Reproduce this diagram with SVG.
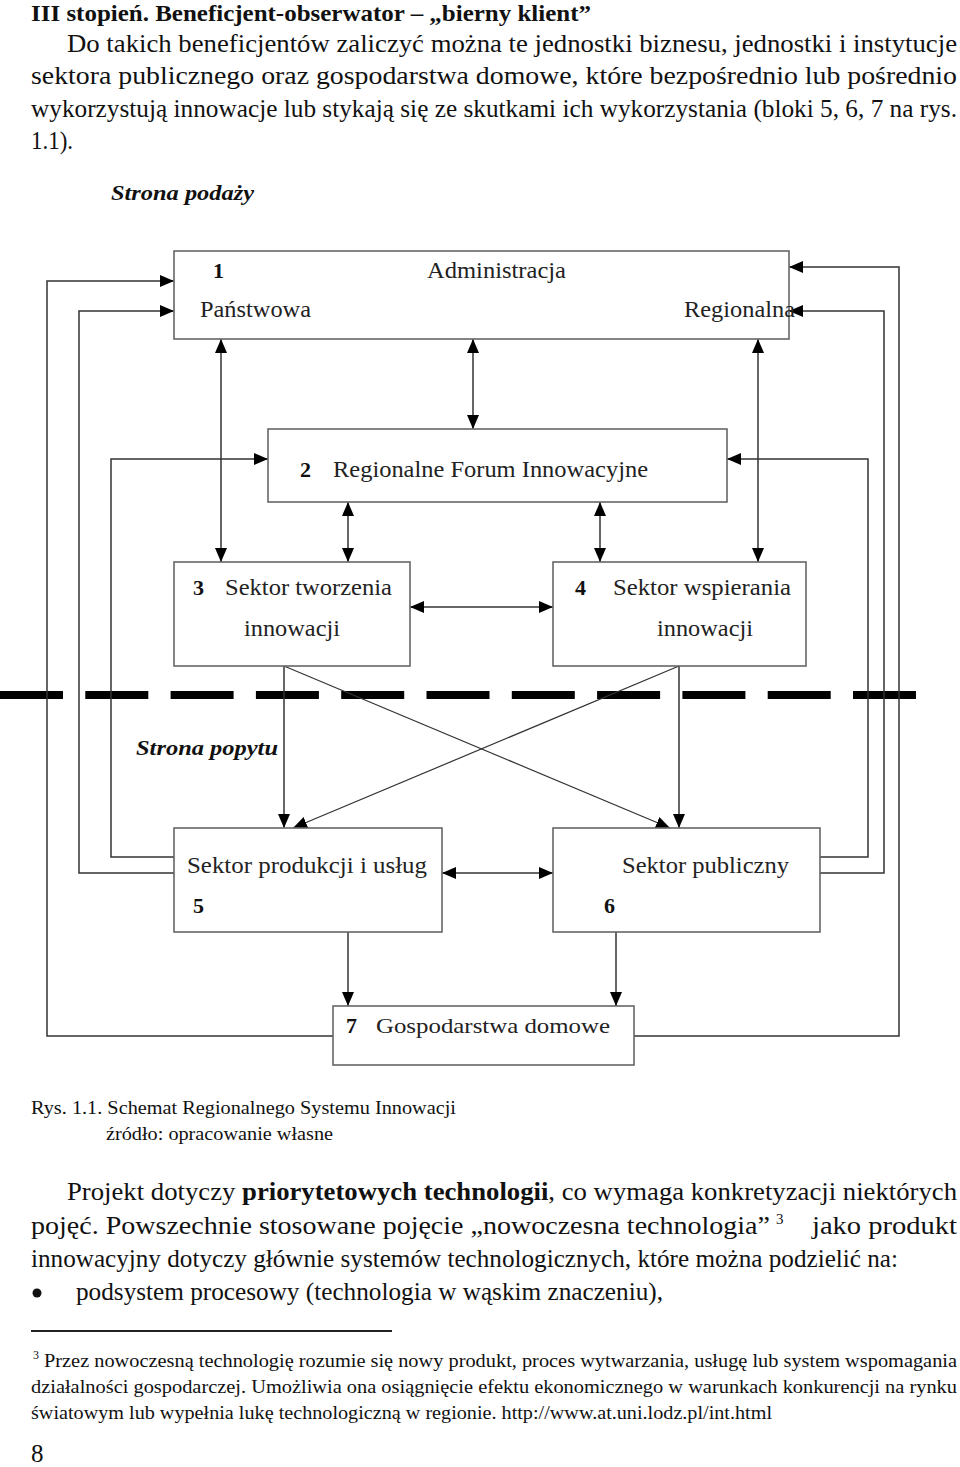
<svg xmlns="http://www.w3.org/2000/svg" width="960" height="1467" viewBox="0 0 960 1467">
<style>
.body{font-family:"Liberation Serif","Times New Roman",serif;font-size:25px;fill:#111}
.small{font-family:"Liberation Serif","Times New Roman",serif;font-size:19px;fill:#111}
.lbl{font-family:"Liberation Serif","Times New Roman",serif;font-size:23px;fill:#222}
.num{font-family:"Liberation Serif","Times New Roman",serif;font-size:22px;font-weight:bold;fill:#111}
.side{font-family:"Liberation Serif","Times New Roman",serif;font-size:21px;font-weight:bold;font-style:italic;fill:#111}
.box{fill:#fff;stroke:#666;stroke-width:1.6}
.con{fill:none;stroke:#333;stroke-width:1.5}
</style>
<defs>
<marker id="ah" viewBox="0 0 14 12" refX="14" refY="6" markerWidth="14" markerHeight="12" markerUnits="userSpaceOnUse" orient="auto-start-reverse">
<path d="M0,0 L14,6 L0,12 z" fill="#000"/>
</marker>
</defs>
<rect width="960" height="1467" fill="#fff"/>

<!-- page text above -->
<text class="body" x="31" y="21" style="font-size:24px;font-weight:bold" textLength="560" lengthAdjust="spacingAndGlyphs">III stopień. Beneficjent-obserwator – „bierny klient”</text>
<text class="body" x="67" y="52" textLength="890" lengthAdjust="spacingAndGlyphs">Do takich beneficjentów zaliczyć można te jednostki biznesu, jednostki i instytucje</text>
<text class="body" x="31" y="84" textLength="926" lengthAdjust="spacingAndGlyphs">sektora publicznego oraz gospodarstwa domowe, które bezpośrednio lub pośrednio</text>
<text class="body" x="31" y="117" textLength="926" lengthAdjust="spacingAndGlyphs">wykorzystują innowacje lub stykają się ze skutkami ich wykorzystania (bloki 5, 6, 7 na rys.</text>
<text class="body" x="31" y="149" textLength="42" lengthAdjust="spacingAndGlyphs">1.1).</text>

<text class="side" x="111" y="200" textLength="143" lengthAdjust="spacingAndGlyphs">Strona podaży</text>
<text class="side" x="136" y="755" textLength="142" lengthAdjust="spacingAndGlyphs">Strona popytu</text>

<!-- dashed boundary -->
<line x1="0" y1="695" x2="917" y2="695" stroke="#000" stroke-width="8" stroke-dasharray="63 22.3"/>

<!-- connectors -->
<g id="connectors" class="con">
<path d="M473,339 V429" marker-start="url(#ah)" marker-end="url(#ah)"/>
<path d="M221,339 V562" marker-start="url(#ah)" marker-end="url(#ah)"/>
<path d="M758,339 V562" marker-start="url(#ah)" marker-end="url(#ah)"/>
<path d="M348,502 V562" marker-start="url(#ah)" marker-end="url(#ah)"/>
<path d="M600,502 V562" marker-start="url(#ah)" marker-end="url(#ah)"/>
<path d="M410,607 H553" marker-start="url(#ah)" marker-end="url(#ah)"/>
<path d="M442,873 H553" marker-start="url(#ah)" marker-end="url(#ah)"/>
<path d="M284,666 V828" marker-end="url(#ah)"/>
<path d="M679,666 V828" marker-end="url(#ah)"/>
<path d="M284,666 L670,828" style="stroke-width:1.2" marker-end="url(#ah)"/>
<path d="M679,666 L293,828" style="stroke-width:1.2" marker-end="url(#ah)"/>
<path d="M348,932 V1006" marker-end="url(#ah)"/>
<path d="M616,932 V1006" marker-end="url(#ah)"/>
<path d="M174,857 H111 V459 H268" marker-end="url(#ah)"/>
<path d="M174,873 H79 V311 H174" marker-end="url(#ah)"/>
<path d="M333,1036 H47 V281 H174" marker-end="url(#ah)"/>
<path d="M820,857 H868 V459 H727" marker-end="url(#ah)"/>
<path d="M820,873 H884 V311 H789" marker-end="url(#ah)"/>
<path d="M634,1036 H899 V267 H789" marker-end="url(#ah)"/>
</g>

<g id="node1">
<rect class="box" x="174" y="251" width="615" height="88"/>
<text class="num" x="213" y="278">1</text>
<text class="lbl" x="427" y="278" textLength="139" lengthAdjust="spacingAndGlyphs">Administracja</text>
<text class="lbl" x="200" y="317" textLength="111" lengthAdjust="spacingAndGlyphs">Państwowa</text>
<text class="lbl" x="684" y="317" textLength="111" lengthAdjust="spacingAndGlyphs">Regionalna</text>
</g>
<g id="node2">
<rect class="box" x="268" y="429" width="459" height="73"/>
<text class="num" x="300" y="477">2</text>
<text class="lbl" x="333" y="477" textLength="315" lengthAdjust="spacingAndGlyphs">Regionalne Forum Innowacyjne</text>
</g>
<g id="node3">
<rect class="box" x="174" y="562" width="236" height="104"/>
<text class="num" x="193" y="595">3</text>
<text class="lbl" x="225" y="595" textLength="167" lengthAdjust="spacingAndGlyphs">Sektor tworzenia</text>
<text class="lbl" x="244" y="636" textLength="96" lengthAdjust="spacingAndGlyphs">innowacji</text>
</g>
<g id="node4">
<rect class="box" x="553" y="562" width="253" height="104"/>
<text class="num" x="575" y="595">4</text>
<text class="lbl" x="613" y="595" textLength="178" lengthAdjust="spacingAndGlyphs">Sektor wspierania</text>
<text class="lbl" x="657" y="636" textLength="96" lengthAdjust="spacingAndGlyphs">innowacji</text>
</g>
<g id="node5">
<rect class="box" x="174" y="828" width="268" height="104"/>
<text class="lbl" x="187" y="873" textLength="240" lengthAdjust="spacingAndGlyphs">Sektor produkcji i usług</text>
<text class="num" x="193" y="913">5</text>
</g>
<g id="node6">
<rect class="box" x="553" y="828" width="267" height="104"/>
<text class="lbl" x="622" y="873" textLength="167" lengthAdjust="spacingAndGlyphs">Sektor publiczny</text>
<text class="num" x="604" y="913">6</text>
</g>
<g id="node7">
<rect class="box" x="333" y="1006" width="301" height="59"/>
<text class="num" x="346" y="1033">7</text>
<text class="lbl" x="376" y="1033" style="font-size:22px" textLength="234" lengthAdjust="spacingAndGlyphs">Gospodarstwa domowe</text>
</g>

<!-- caption -->
<text class="small" x="31" y="1114" textLength="425" lengthAdjust="spacingAndGlyphs">Rys. 1.1. Schemat Regionalnego Systemu Innowacji</text>
<text class="small" x="106" y="1140" textLength="227" lengthAdjust="spacingAndGlyphs">źródło: opracowanie własne</text>

<!-- lower paragraph -->
<text class="body" x="67" y="1200" textLength="890" lengthAdjust="spacingAndGlyphs">Projekt dotyczy <tspan font-weight="bold">priorytetowych technologii</tspan>, co wymaga konkretyzacji niektórych</text>
<text class="body" x="31" y="1234" textLength="739" lengthAdjust="spacingAndGlyphs">pojęć. Powszechnie stosowane pojęcie „nowoczesna technologia”</text>
<text class="body" x="776" y="1224" style="font-size:15px">3</text>
<text class="body" x="812" y="1234" textLength="145" lengthAdjust="spacingAndGlyphs">jako produkt</text>
<text class="body" x="31" y="1267" textLength="867" lengthAdjust="spacingAndGlyphs">innowacyjny dotyczy głównie systemów technologicznych, które można podzielić na:</text>
<circle cx="37" cy="1293" r="4.5" fill="#111"/>
<text class="body" x="76" y="1300" textLength="587" lengthAdjust="spacingAndGlyphs">podsystem procesowy (technologia w wąskim znaczeniu),</text>

<line x1="31" y1="1331" x2="392" y2="1331" stroke="#222" stroke-width="2"/>

<text class="small" x="33" y="1359" style="font-size:12px">3</text>
<text class="small" x="44" y="1367" textLength="913" lengthAdjust="spacingAndGlyphs">Przez nowoczesną technologię rozumie się nowy produkt, proces wytwarzania, usługę lub system wspomagania</text>
<text class="small" x="31" y="1393" textLength="926" lengthAdjust="spacingAndGlyphs">działalności gospodarczej. Umożliwia ona osiągnięcie efektu ekonomicznego w warunkach konkurencji na rynku</text>
<text class="small" x="31" y="1419" textLength="741" lengthAdjust="spacingAndGlyphs">światowym lub wypełnia lukę technologiczną w regionie. http://www.at.uni.lodz.pl/int.html</text>

<text class="body" x="31" y="1462">8</text>
</svg>
